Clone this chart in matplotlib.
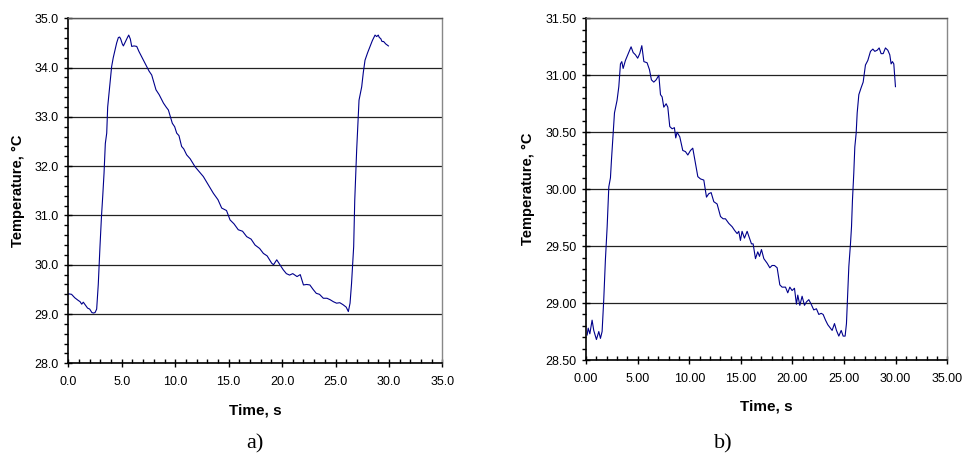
import matplotlib
matplotlib.use("Agg")
import matplotlib.pyplot as plt
from matplotlib.ticker import MultipleLocator, FormatStrFormatter

# a) temperature trace
time_a = [0.0, 0.3, 0.6, 0.9, 1.1, 1.25, 1.4, 1.6, 1.8, 2.0, 2.2, 2.35, 2.5, 2.65,
          2.8, 2.96, 3.1, 3.22, 3.34, 3.46, 3.59, 3.68, 3.84, 4.05, 4.2, 4.37, 4.52,
          4.68, 4.8, 4.9, 5.05, 5.15, 5.28, 5.4, 5.55, 5.65, 5.8, 5.93, 6.15, 6.4,
          6.6, 6.86, 7.1, 7.33, 7.55, 7.8, 8.0, 8.2, 8.5, 8.9, 9.15, 9.36, 9.55,
          9.73, 9.95, 10.14, 10.35, 10.6, 10.8, 11.07, 11.4, 11.85, 12.2, 12.63,
          13.1, 13.57, 14.0, 14.35, 14.8, 15.13, 15.5, 15.9, 16.3, 16.69, 17.1,
          17.47, 17.9, 18.25, 18.6, 19.03, 19.2, 19.5, 19.8, 20.1, 20.4, 20.7,
          21.0, 21.4, 21.7, 22.0, 22.3, 22.6, 22.9, 23.2, 23.5, 23.86, 24.2, 24.5,
          24.8, 25.1, 25.4, 25.7, 26.0, 26.2, 26.36, 26.5, 26.6, 26.7, 26.8, 26.9,
          26.98, 27.1, 27.2, 27.45, 27.6, 27.76, 28.0, 28.23, 28.45, 28.7, 28.85,
          29.0, 29.1, 29.23, 29.35, 29.5, 29.7, 29.95]
temp_a = [29.41, 29.40, 29.33, 29.28, 29.25, 29.20, 29.24, 29.18, 29.12, 29.10, 29.03,
          29.02, 29.03, 29.10, 29.60, 30.37, 30.98, 31.40, 31.86, 32.46, 32.67, 33.20,
          33.55, 34.02, 34.20, 34.36, 34.50, 34.61, 34.62, 34.58, 34.48, 34.44, 34.50,
          34.56, 34.62, 34.66, 34.58, 34.43, 34.44, 34.43, 34.33, 34.22, 34.12, 34.02,
          33.93, 33.85, 33.70, 33.55, 33.45, 33.28, 33.20, 33.14, 33.00, 32.87, 32.80,
          32.67, 32.62, 32.40, 32.35, 32.23, 32.15, 31.99, 31.90, 31.79, 31.62, 31.45,
          31.32, 31.15, 31.10, 30.91, 30.83, 30.71, 30.68, 30.57, 30.52, 30.40, 30.33,
          30.23, 30.18, 30.03, 30.00, 30.10, 30.00, 29.90, 29.82, 29.79, 29.82, 29.76,
          29.80, 29.59, 29.60, 29.59, 29.50, 29.42, 29.40, 29.32, 29.32, 29.29, 29.25,
          29.22, 29.23, 29.19, 29.14, 29.05, 29.22, 29.62, 30.00, 30.37, 31.31, 31.90,
          32.33, 32.90, 33.34, 33.61, 33.90, 34.15, 34.30, 34.43, 34.55, 34.66, 34.63,
          34.66, 34.61, 34.59, 34.53, 34.53, 34.48, 34.44]

# b) temperature trace
time_b = [0.1, 0.2, 0.36, 0.58, 0.74, 1.0, 1.23, 1.39, 1.55, 1.71, 1.87, 2.04, 2.2,
          2.36, 2.46, 2.62, 2.75, 3.0, 3.17, 3.33, 3.46, 3.59, 3.81, 4.04, 4.36, 4.56,
          4.78, 5.0, 5.2, 5.4, 5.6, 5.91, 6.14, 6.33, 6.56, 6.79, 7.05, 7.21, 7.37,
          7.53, 7.76, 7.92, 8.11, 8.34, 8.56, 8.69, 8.82, 9.08, 9.37, 9.63, 9.86,
          10.12, 10.34, 10.54, 10.83, 11.09, 11.41, 11.67, 11.89, 12.12, 12.38, 12.7,
          13.03, 13.28, 13.51, 13.83, 14.16, 14.38, 14.64, 14.8, 14.96, 15.12, 15.35,
          15.61, 15.84, 16.03, 16.19, 16.42, 16.64, 16.81, 17.0, 17.23, 17.55, 17.81,
          18.03, 18.26, 18.52, 18.78, 19.0, 19.33, 19.55, 19.75, 19.97, 20.2, 20.39,
          20.52, 20.72, 20.94, 21.17, 21.36, 21.59, 21.82, 22.07, 22.33, 22.56, 22.79,
          22.98, 23.21, 23.43, 23.69, 23.85, 24.08, 24.27, 24.5, 24.73, 24.92, 25.11,
          25.24, 25.37, 25.47, 25.63, 25.73, 25.82, 25.95, 26.05, 26.18, 26.28, 26.44,
          26.66, 26.86, 27.08, 27.31, 27.57, 27.8, 27.99, 28.22, 28.41, 28.6, 28.8,
          29.02, 29.25, 29.44, 29.57, 29.7, 29.83, 29.99]
temp_b = [28.72, 28.78, 28.73, 28.85, 28.76, 28.68, 28.75, 28.69, 28.75, 29.03, 29.38,
          29.67, 30.02, 30.10, 30.26, 30.49, 30.67, 30.78, 30.90, 31.10, 31.12, 31.06,
          31.13, 31.18, 31.25, 31.20, 31.18, 31.15, 31.19, 31.26, 31.12, 31.11, 31.05,
          30.96, 30.94, 30.96, 31.00, 30.83, 30.81, 30.72, 30.75, 30.72, 30.55, 30.53,
          30.54, 30.45, 30.50, 30.46, 30.34, 30.33, 30.30, 30.34, 30.36, 30.26, 30.11,
          30.09, 30.08, 29.93, 29.96, 29.97, 29.89, 29.87, 29.76, 29.74, 29.74, 29.70,
          29.67, 29.64, 29.61, 29.63, 29.55, 29.63, 29.57, 29.63, 29.57, 29.52, 29.52,
          29.39, 29.45, 29.41, 29.47, 29.39, 29.35, 29.31, 29.33, 29.33, 29.31, 29.16,
          29.14, 29.14, 29.09, 29.14, 29.11, 29.13, 28.99, 29.07, 28.98, 29.06, 28.98,
          29.01, 29.03, 28.99, 28.94, 28.95, 28.90, 28.91, 28.90, 28.85, 28.81, 28.78,
          28.76, 28.82, 28.76, 28.71, 28.76, 28.71, 28.71, 28.82, 29.09, 29.32, 29.52,
          29.67, 29.90, 30.14, 30.37, 30.49, 30.67, 30.83, 30.89, 30.94, 31.09, 31.13,
          31.21, 31.23, 31.21, 31.22, 31.24, 31.19, 31.19, 31.24, 31.22, 31.18, 31.10,
          31.12, 31.10, 30.90]

line_color = '#00008B'
fig = plt.figure(figsize=(9.64, 4.70), dpi=100)


def setup_axes(ax, ylim, ymajor, yminor, fmt):
    ax.set_xlim(0, 35)
    ax.set_ylim(*ylim)
    ax.xaxis.set_major_locator(MultipleLocator(5))
    ax.xaxis.set_minor_locator(MultipleLocator(1))
    ax.yaxis.set_major_locator(MultipleLocator(ymajor))
    ax.yaxis.set_minor_locator(MultipleLocator(yminor))
    ax.xaxis.set_major_formatter(FormatStrFormatter(fmt))
    ax.yaxis.set_major_formatter(FormatStrFormatter(fmt))
    ax.tick_params(which='major', direction='inout', length=6, width=1,
                   labelsize=9, pad=4)
    ax.tick_params(axis='x', which='major', pad=6)
    ax.tick_params(axis='x', which='minor', direction='in', length=3, width=1)
    ax.tick_params(axis='y', which='minor', direction='out', length=3, width=1)
    for lab in ax.get_xticklabels() + ax.get_yticklabels():
        lab.set_fontfamily('Liberation Sans')
    ax.spines['left'].set_linewidth(1.2)
    ax.spines['bottom'].set_linewidth(1.2)
    ax.spines['right'].set_color('#888888')
    ax.spines['right'].set_linewidth(1.0)
    ax.spines['top'].set_color('#555555')
    ax.spines['top'].set_linewidth(1.0)
    ax.yaxis.grid(True, which='major', color='#222222', linewidth=0.9)
    ax.set_axisbelow(True)
    ax.set_xlabel('Time, s', fontsize=11, fontweight='bold',
                  fontfamily='Liberation Sans', labelpad=11)
    ax.set_ylabel('Temperature, °C', fontsize=10.5, fontweight='bold',
                  fontfamily='Liberation Sans', labelpad=7)


ax1 = fig.add_axes([0.0709, 0.227, 0.388, 0.734])
ax1.plot(time_a, temp_a, color=line_color, linewidth=0.8)
setup_axes(ax1, (28, 35), 1, 0.2, '%.1f')

ax2 = fig.add_axes([0.608, 0.234, 0.3745, 0.727])
ax2.plot(time_b, temp_b, color=line_color, linewidth=0.8)
setup_axes(ax2, (28.5, 31.5), 0.5, 0.1, '%.2f')

fig.text(0.264, 0.045, 'a)', fontsize=16, fontfamily='Liberation Serif', ha='center')
fig.text(0.750, 0.045, 'b)', fontsize=16, fontfamily='Liberation Serif', ha='center')

fig.savefig('out.png', dpi=100)
